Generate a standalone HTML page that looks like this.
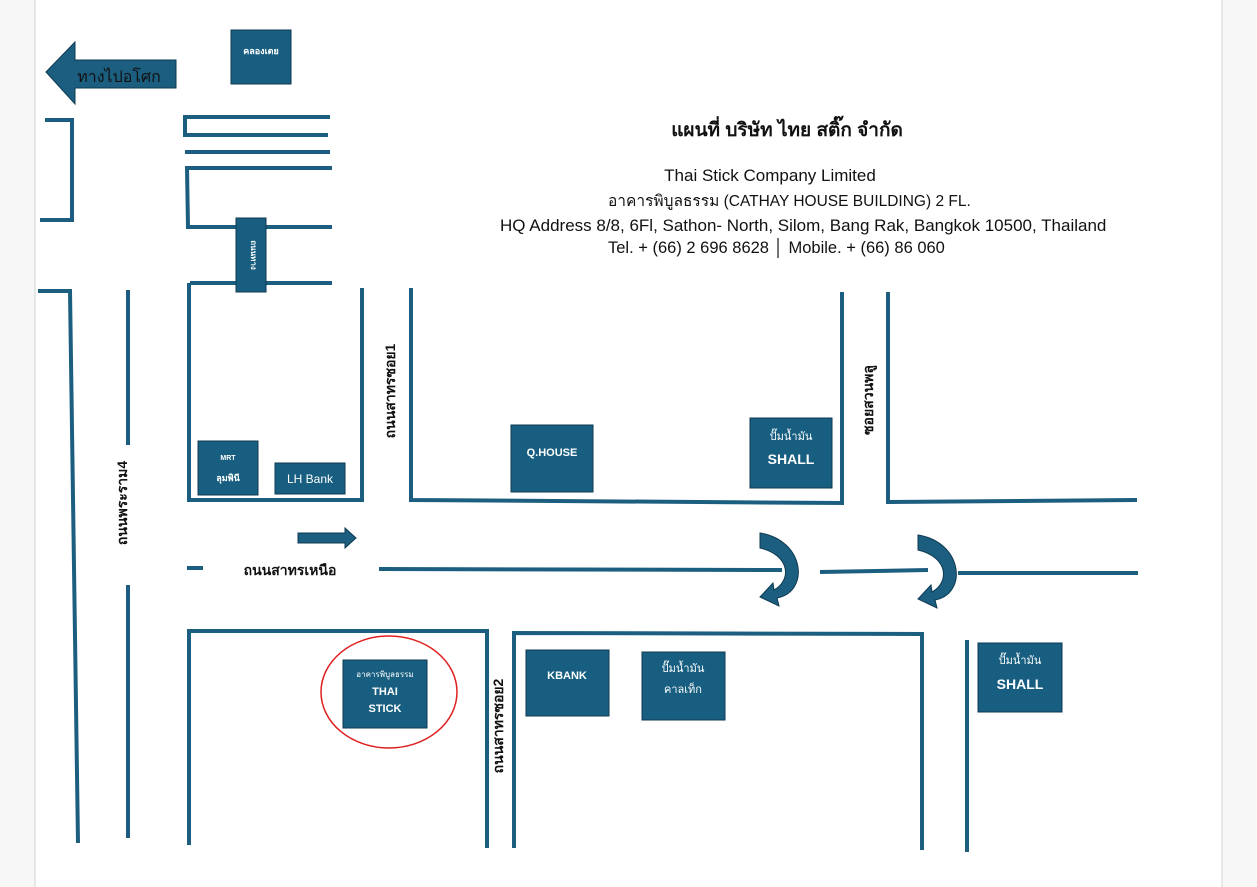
<!DOCTYPE html>
<html><head><meta charset="utf-8"><style>
html,body{margin:0;padding:0;background:#fff}
svg{display:block}
text{font-family:"Liberation Sans","Noto Sans CJK SC",sans-serif}
</style></head><body>
<svg width="1257" height="887" viewBox="0 0 1257 887" xmlns="http://www.w3.org/2000/svg">
<rect x="0" y="0" width="35" height="887" fill="#f7f7f7"/>
<rect x="1223" y="0" width="34" height="887" fill="#f7f7f7"/>
<line x1="35" y1="0" x2="35" y2="887" stroke="#d0d0d0"/>
<line x1="1222" y1="0" x2="1222" y2="887" stroke="#d0d0d0"/>
<g stroke="#1b5e80" stroke-width="4" fill="none">
<polyline points="45,120 72,120 72,220 40,220"/>
<polyline points="330,117 185,117 185,135 328,135"/>
<line x1="185" y1="152" x2="330" y2="152"/>
<polyline points="332,168 187,168 188,227 332,227"/>
<line x1="190" y1="283" x2="332" y2="283"/>
<polyline points="189,283 189,500 362,500 362,288"/>
<polyline points="38,291 70,291 78,843"/>
<line x1="128" y1="290" x2="128" y2="445"/>
<line x1="128" y1="585" x2="128" y2="838"/>
<polyline points="411,288 411,500 842,503 842,292"/>
<polyline points="888,292 888,502 1137,500"/>
<line x1="187" y1="568" x2="203" y2="568"/>
<line x1="379" y1="569" x2="782" y2="570"/>
<line x1="820" y1="572" x2="928" y2="570"/>
<line x1="958" y1="573" x2="1138" y2="573"/>
<polyline points="189,845 189,631 487,631 487,848"/>
<polyline points="514,848 514,633 922,634 922,850"/>
<line x1="967" y1="640" x2="967" y2="852"/>
</g>
<polygon points="46,72 75,42 75,60 176,60 176,88 75,88 75,104" fill="#1b5e80" stroke="#0e3a50" stroke-width="1"/>
<text x="119" y="82" font-size="16" fill="#111" text-anchor="middle">ทางไปอโศก</text>
<polygon points="298,533 345,533 345,528 356,538 345,548 345,543 298,543" fill="#1b5e80" stroke="#0e3a50" stroke-width="1"/>
<g fill="#1b5e80" stroke="#0e3a50" stroke-width="1">
<path d="M760,533 C805,540 810,592 777,598 L779,606 L760,597 L773,583 L774,590 C792,580 790,555 760,548 Z"/>
<path d="M918,535 C963,542 968,594 935,600 L937,608 L918,599 L931,585 L932,592 C950,582 948,557 918,550 Z"/>
</g>
<g fill="#175e80" stroke="#0e3a50" stroke-width="1">
<rect x="231" y="30" width="60" height="54"/>
<rect x="236" y="218" width="30" height="74"/>
<rect x="198" y="441" width="60" height="54"/>
<rect x="275" y="463" width="70" height="31"/>
<rect x="511" y="425" width="82" height="67"/>
<rect x="750" y="418" width="82" height="70"/>
<rect x="343" y="660" width="84" height="68"/>
<rect x="526" y="650" width="83" height="66"/>
<rect x="642" y="652" width="83" height="68"/>
<rect x="978" y="643" width="84" height="69"/>
</g>
<g fill="#fff" font-weight="bold" text-anchor="middle">
<text x="261" y="54" font-size="9">คลองเตย</text>
<text x="251" y="255" font-size="8" transform="rotate(90 251 255)">ถนนทาง</text>
<text x="228" y="460" font-size="7">MRT</text>
<text x="228" y="481" font-size="9">ลุมพินี</text>
<text x="310" y="483" font-size="12" font-weight="normal">LH Bank</text>
<text x="552" y="456" font-size="11">Q.HOUSE</text>
<text x="791" y="440" font-size="11" font-weight="normal">ปั๊มน้ำมัน</text>
<text x="791" y="464" font-size="14">SHALL</text>
<text x="385" y="677" font-size="8" font-weight="normal">อาคารพิบูลธรรม</text>
<text x="385" y="695" font-size="11">THAI</text>
<text x="385" y="712" font-size="11">STICK</text>
<text x="567" y="679" font-size="11">KBANK</text>
<text x="683" y="672" font-size="11" font-weight="normal">ปั๊มน้ำมัน</text>
<text x="683" y="693" font-size="11" font-weight="normal">คาลเท็ก</text>
<text x="1020" y="664" font-size="11" font-weight="normal">ปั๊มน้ำมัน</text>
<text x="1020" y="689" font-size="14">SHALL</text>
</g>
<ellipse cx="389" cy="692" rx="68" ry="56" fill="none" stroke="#e02020" stroke-width="1.5"/>
<g fill="#111" font-weight="bold" font-size="14">
<text x="290" y="575" text-anchor="middle">ถนนสาทรเหนือ</text>
<text transform="translate(127,503) rotate(-90)" text-anchor="middle">ถนนพระราม4</text>
<text transform="translate(395,391) rotate(-90)" text-anchor="middle">ถนนสาทรซอย1</text>
<text transform="translate(503,726) rotate(-90)" text-anchor="middle">ถนนสาทรซอย2</text>
<text transform="translate(873,400) rotate(-90)" text-anchor="middle">ซอยสวนพลู</text>
</g>
<text x="787" y="136" font-size="19" font-weight="bold" text-anchor="middle" fill="#111">แผนที่ บริษัท ไทย สติ๊ก จำกัด</text>
<text x="770" y="181" font-size="17" text-anchor="middle" fill="#111">Thai Stick Company Limited</text>
<text x="608" y="206" font-size="15.5" fill="#111">อาคารพิบูลธรรม (CATHAY HOUSE BUILDING) 2 FL.</text>
<text x="500" y="231" font-size="17" fill="#111">HQ Address 8/8, 6Fl, Sathon- North, Silom, Bang Rak, Bangkok 10500, Thailand</text>
<text x="608" y="253" font-size="16.5" fill="#111">Tel. + (66) 2 696 8628 │ Mobile. + (66) 86 060</text>
</svg>
</body></html>
